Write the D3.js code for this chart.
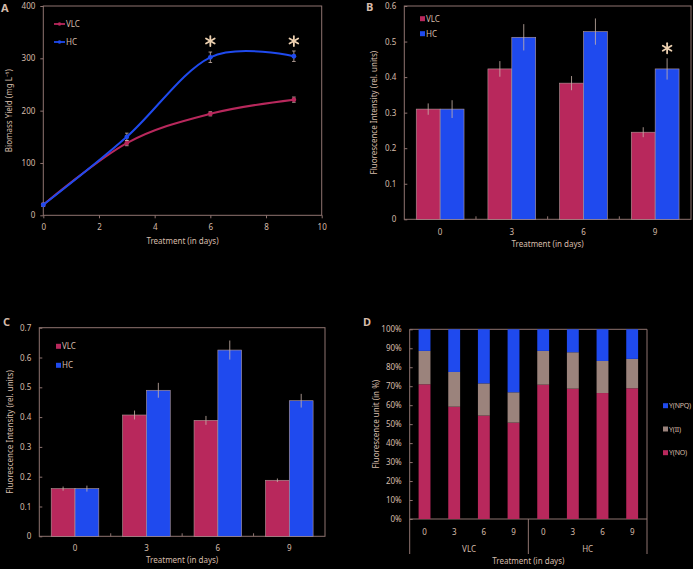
<!DOCTYPE html>
<html><head><meta charset="utf-8">
<script src="https://cdn.jsdelivr.net/npm/d3@7"></script>
<style>
html,body{margin:0;padding:0;background:#000;}
svg{display:block;}
text{font-family:"Noto Sans",sans-serif;fill:#d6bcaa;}
</style></head><body>
<svg id="c" width="693" height="569"></svg>
<script>
// ---- data ----
const daysA = [0, 3, 6, 9];
const vlcA = [20, 138, 194, 221];
const hcA = [20, 150, 302, 304];
const vlcAerr = [3, 5, 4, 5];
const hcAerr = [3, 7, 10, 10];
const starsA = [6, 9];

const cats = ["0", "3", "6", "9"];
const vlcB = [0.31, 0.423, 0.383, 0.245];
const hcB = [0.31, 0.512, 0.528, 0.423];
const vlcBerr = [0.016, 0.022, 0.02, 0.014];
const hcBerr = [0.025, 0.037, 0.037, 0.03];
const starsB = ["9"];

const vlcC = [0.16, 0.407, 0.389, 0.188];
const hcC = [0.16, 0.49, 0.625, 0.455];
const vlcCerr = [0.007, 0.015, 0.015, 0.006];
const hcCerr = [0.01, 0.025, 0.032, 0.023];

const groupsD = ["VLC", "HC"];
const catsD = ["VLC-0","VLC-3","VLC-6","VLC-9","HC-0","HC-3","HC-6","HC-9"];
const yNO = [71.0, 59.2, 54.5, 50.8, 70.8, 68.7, 66.4, 68.9];
const yII = [17.6, 18.3, 17.0, 16.0, 17.8, 19.2, 16.9, 15.5];
const yNPQ = [11.4, 22.5, 28.5, 33.2, 11.4, 12.1, 16.7, 15.6];

const C_VLC = "#b8285c", C_HC = "#1f4aee", C_II = "#9b837c";
const AX = "#8f7470", TXT = "#d6bcaa", STAR = "#ecd0b0", ERR = "#c9b4aa";
const svg = d3.select("#c");

function styleAxis(g){
  g.selectAll("path,line").attr("stroke", AX);
  g.selectAll("text").attr("fill", TXT).style("font-size","8px").style("font-family","Noto Sans");
  g.select(".domain").remove();
}
function frame(x0,y0,x1,y1){
  svg.append("rect").attr("x",x0).attr("y",y0).attr("width",x1-x0).attr("height",y1-y0)
    .attr("fill","none").attr("stroke",AX).attr("stroke-width",1);
}
function star(x,y){
  const g = svg.append("g").attr("transform",`translate(${x},${y})`);
  for(let a=30;a<210;a+=60){
    const r=a*Math.PI/180;
    g.append("line").attr("x1",-5*Math.cos(r)).attr("y1",-5*Math.sin(r))
      .attr("x2",5*Math.cos(r)).attr("y2",5*Math.sin(r))
      .attr("stroke",STAR).attr("stroke-width",1.8).attr("stroke-linecap","round");
  }
}
function panelLabel(t,x,y){
  svg.append("text").attr("x",x).attr("y",y).text(t)
    .style("font-size","11px").style("font-weight","bold").attr("fill","#e6cdb4");
}
function errbar(x,yTop,yBot,w){
  svg.append("line").attr("x1",x).attr("x2",x).attr("y1",yTop).attr("y2",yBot).attr("stroke",ERR).attr("stroke-width",0.8);
  svg.append("line").attr("x1",x-w).attr("x2",x+w).attr("y1",yTop).attr("y2",yTop).attr("stroke",ERR).attr("stroke-width",0.8);
  svg.append("line").attr("x1",x-w).attr("x2",x+w).attr("y1",yBot).attr("y2",yBot).attr("stroke",ERR).attr("stroke-width",0.8);
}

// ---------- Panel A ----------
{
  const L=43.3,T=6,R=321.7,B=215.3;
  const x=d3.scaleLinear().domain([0,10]).range([L,R]);
  const y=d3.scaleLinear().domain([0,400]).range([B,T]);
  frame(L,T,R,B);
  svg.append("g").attr("transform",`translate(0,${B})`)
    .call(d3.axisBottom(x).tickValues([0,2,4,6,8,10]).tickSize(3).tickPadding(6)).call(styleAxis);
  svg.append("g").attr("transform",`translate(${L},0)`)
    .call(d3.axisLeft(y).tickValues([0,100,200,300,400]).tickSize(3).tickPadding(5)).call(styleAxis);
  const line=d3.line().x((d,i)=>x(daysA[i])).y(d=>y(d)).curve(d3.curveCardinal.tension(0));
  [[vlcA,vlcAerr,C_VLC],[hcA,hcAerr,C_HC]].forEach(([v,e,c])=>{
    v.forEach((d,i)=>errbar(x(daysA[i]),y(d+e[i]),y(d-e[i]),1.8));
    svg.append("path").datum(v).attr("d",line).attr("fill","none").attr("stroke",c).attr("stroke-width",2);
    svg.selectAll(null).data(v).enter().append("circle")
      .attr("cx",(d,i)=>x(daysA[i])).attr("cy",d=>y(d)).attr("r",2.4).attr("fill",c);
  });
  starsA.forEach(d=>star(x(d),y(333)));
  [["VLC",C_VLC,24],["HC",C_HC,42]].forEach(([t,c,yy])=>{
    svg.append("line").attr("x1",54).attr("x2",65).attr("y1",yy).attr("y2",yy).attr("stroke",c).attr("stroke-width",1.8);
    svg.append("circle").attr("cx",59.5).attr("cy",yy).attr("r",1.8).attr("fill",c);
    svg.append("text").attr("x",66).attr("y",yy+3).text(t).style("font-size","8px");
  });
  svg.append("text").attr("x",(L+R)/2).attr("y",244).attr("text-anchor","middle").text("Treatment (in days)").style("font-size","8px");
  svg.append("text").attr("transform",`translate(12,${(T+B)/2}) rotate(-90)`).attr("text-anchor","middle")
    .text("Biomass Yield (mg L⁻¹)").style("font-size","8px");
  panelLabel("A",1,12);
}

// ---------- bar panels B & C ----------
function barPanel(L,T,R,B,ymax,ticks,fmt,vlc,hc,ve,he,stars,legX,legY1,legY2,xlabY,titleY,ytX,lab,labX,labY){
  const x=d3.scaleBand().domain(cats).range([L,R]);
  const xs=d3.scaleBand().domain(["VLC","HC"]).range([0,x.bandwidth()]).paddingOuter(0.5);
  const y=d3.scaleLinear().domain([0,ymax]).range([B,T]);
  frame(L,T,R,B);
  svg.append("g").attr("transform",`translate(${L},0)`)
    .call(d3.axisLeft(y).tickValues(ticks).tickFormat(fmt).tickSize(-3).tickPadding(8)).call(styleAxis);
  // category separator ticks
  svg.selectAll(null).data(cats.slice(1)).enter().append("line")
    .attr("x1",d=>x(d)).attr("x2",d=>x(d)).attr("y1",B).attr("y2",B-3).attr("stroke",AX);
  svg.selectAll(null).data(cats).enter().append("text")
    .attr("x",d=>x(d)+x.bandwidth()/2).attr("y",xlabY).attr("text-anchor","middle").text(d=>d).style("font-size","8px");
  [[vlc,ve,"VLC",C_VLC],[hc,he,"HC",C_HC]].forEach(([v,e,k,c])=>{
    svg.selectAll(null).data(v).enter().append("rect")
      .attr("x",(d,i)=>x(cats[i])+xs(k)).attr("width",xs.bandwidth())
      .attr("y",d=>y(d)).attr("height",d=>B-y(d))
      .attr("fill",c).attr("stroke","#b59a9a").attr("stroke-width",0.6);
    v.forEach((d,i)=>errbar(x(cats[i])+xs(k)+xs.bandwidth()/2,y(d+e[i]),y(d-e[i]),0));
  });
  stars.forEach(s=>{const i=cats.indexOf(s);star(x(s)+xs("HC")+xs.bandwidth()/2,y(hc[i]+he[i])-10);});
  [["VLC",C_VLC,legY1],["HC",C_HC,legY2]].forEach(([t,c,yy])=>{
    svg.append("rect").attr("x",legX).attr("y",yy-2.5).attr("width",5).attr("height",5).attr("fill",c);
    svg.append("text").attr("x",legX+6).attr("y",yy+3).text(t).style("font-size","8px");
  });
  svg.append("text").attr("x",(L+R)/2).attr("y",titleY).attr("text-anchor","middle").text("Treatment (in days)").style("font-size","8px");
  svg.append("text").attr("transform",`translate(${ytX},${(T+B)/2}) rotate(-90)`).attr("text-anchor","middle")
    .text("Fluorescence Intensity (rel. units)").style("font-size","8px");
  panelLabel(lab,labX,labY);
}
const fmtDec=d=>d===0?"0":d3.format(".1f")(d);
barPanel(404.3,6,691,219.3,0.6,[0,0.1,0.2,0.3,0.4,0.5,0.6],fmtDec,vlcB,hcB,vlcBerr,hcBerr,starsB,420,18.7,33.7,235,247,376.7,"B",366,11);
barPanel(39.3,327.7,325,536.3,0.7,[0,0.1,0.2,0.3,0.4,0.5,0.6,0.7],fmtDec,vlcC,hcC,vlcCerr,hcCerr,[],56,346.3,365.3,551,563,13,"C",3,326);

// ---------- Panel D ----------
{
  const L=409.7,T=329.3,R=647,B=519;
  const x=d3.scaleBand().domain(catsD).range([L,R]).paddingInner(0.6).paddingOuter(0.3);
  const y=d3.scaleLinear().domain([0,100]).range([B,T]);
  svg.append("line").attr("x1",L).attr("x2",R).attr("y1",T).attr("y2",T).attr("stroke",AX);
  svg.append("line").attr("x1",R).attr("x2",R).attr("y1",T).attr("y2",554).attr("stroke",AX);
  svg.append("line").attr("x1",L).attr("x2",L).attr("y1",T).attr("y2",554).attr("stroke",AX);
  svg.append("line").attr("x1",L).attr("x2",R).attr("y1",B).attr("y2",B).attr("stroke",AX);
  svg.append("line").attr("x1",(L+R)/2).attr("x2",(L+R)/2).attr("y1",B).attr("y2",554).attr("stroke",AX);
  svg.append("g").attr("transform",`translate(${L},0)`)
    .call(d3.axisLeft(y).tickValues(d3.range(0,101,10)).tickFormat(d=>d+"%").tickSize(-3).tickPadding(8)).call(styleAxis);
  const rows=catsD.map((c,i)=>({c,NO:yNO[i],II:yII[i],NPQ:yNPQ[i]}));
  const stack=d3.stack().keys(["NO","II","NPQ"])(rows);
  const col={NO:C_VLC,II:C_II,NPQ:C_HC};
  stack.forEach(s=>{
    svg.selectAll(null).data(s).enter().append("rect")
      .attr("x",d=>x(d.data.c)).attr("width",x.bandwidth())
      .attr("y",d=>y(d[1])).attr("height",d=>y(d[0])-y(d[1])).attr("fill",col[s.key]);
  });
  svg.selectAll(null).data(catsD).enter().append("text")
    .attr("x",d=>x(d)+x.bandwidth()/2).attr("y",535).attr("text-anchor","middle").text(d=>d.split("-")[1]).style("font-size","8px");
  groupsD.forEach((g,i)=>{
    svg.append("text").attr("x",L+(R-L)*(i+0.5)/2).attr("y",552).attr("text-anchor","middle").text(g).style("font-size","8px");
  });
  svg.append("text").attr("x",(L+R)/2).attr("y",564).attr("text-anchor","middle").text("Treatment (in days)").style("font-size","8px");
  svg.append("text").attr("transform",`translate(378.7,${(T+B)/2}) rotate(-90)`).attr("text-anchor","middle")
    .text("Fluorescence unit (in %)").style("font-size","8px");
  [["Y(NPQ)",C_HC,405.7],["Y(II)",C_II,429],["Y(NO)",C_VLC,452.7]].forEach(([t,c,yy])=>{
    svg.append("rect").attr("x",663).attr("y",yy-2.5).attr("width",5).attr("height",5).attr("fill",c);
    svg.append("text").attr("x",669).attr("y",yy+2.5).text(t).style("font-size","7px").style("letter-spacing","-0.2px");
  });
  panelLabel("D",363,326);
}
</script></body></html>
